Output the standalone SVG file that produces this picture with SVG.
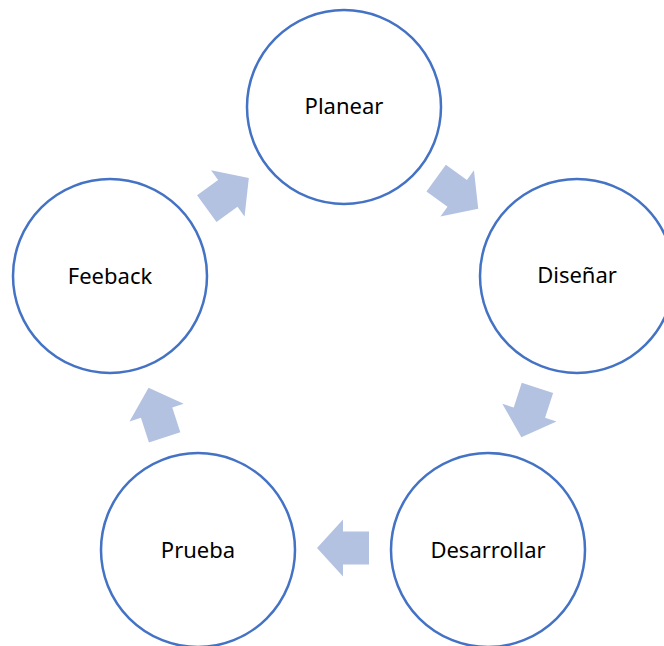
<svg xmlns="http://www.w3.org/2000/svg" width="664" height="646" viewBox="0 0 664 646">
<defs>
<style>
.node circle{fill:#fff;stroke:#4472C4;stroke-width:2.5}
.node text{font-family:"Noto Sans","Open Sans",sans-serif;font-size:22px;fill:#000;text-anchor:middle}
.arr{fill:#B4C2E2}
</style>
<path id="ar" d="M-26,-16.5 L0,-16.5 L0,-28.5 L26,0 L0,28.5 L0,16.5 L-26,16.5 Z"/>
</defs>
<rect width="664" height="646" fill="#fff"/>
<g id="connectors" class="arr">
<use href="#ar" transform="translate(457.2,193.4) rotate(36)"/>
<use href="#ar" transform="translate(529.4,412.6) rotate(108)"/>
<use href="#ar" transform="translate(343,548) rotate(180)"/>
<use href="#ar" transform="translate(156.6,412.6) rotate(252)"/>
<use href="#ar" transform="translate(227.8,193.4) rotate(324)"/>
</g>
<g id="planear" class="node"><circle cx="344" cy="107" r="97"/><text x="344" y="113.5">Planear</text></g>
<g id="disenar" class="node"><circle cx="577" cy="276" r="97"/><text x="577" y="283">Diseñar</text></g>
<g id="desarrollar" class="node"><circle cx="488" cy="550" r="97"/><text x="488" y="558">Desarrollar</text></g>
<g id="prueba" class="node"><circle cx="198" cy="550" r="97"/><text x="198" y="558">Prueba</text></g>
<g id="feeback" class="node"><circle cx="110" cy="276" r="97"/><text x="110" y="283.5">Feeback</text></g>
</svg>
